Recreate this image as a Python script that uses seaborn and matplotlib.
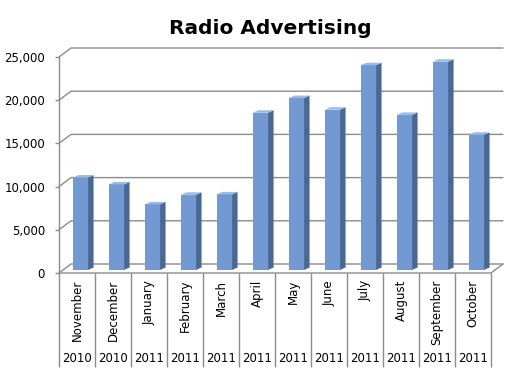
import matplotlib
matplotlib.use("Agg")
import matplotlib.pyplot as plt
from matplotlib.patches import Polygon
import seaborn as sns
import pandas as pd

months = ["November", "December", "January", "February", "March", "April",
          "May", "June", "July", "August", "September", "October"]
years = ["2010", "2010", "2011", "2011", "2011", "2011",
         "2011", "2011", "2011", "2011", "2011", "2011"]
values = [10700, 9900, 7600, 8700, 8750, 18200,
          19900, 18550, 23700, 17950, 24100, 15650]
yticks = [0, 5000, 10000, 15000, 20000, 25000]
ytick_labels = ["0", "5,000", "10,000", "15,000", "20,000", "25,000"]

sns.set_style("white")
plt.rcParams["font.family"] = ["DejaVu Sans"]
plt.rcParams["text.color"] = "black"

W, H = 523, 385
fig = plt.figure(figsize=(W / 100, H / 100), dpi=100)
L, R, B, T = 59, 491, 273, 57
ax = fig.add_axes([L / W, (H - B) / H, (R - L) / W, (B - T) / H])

df = pd.DataFrame({"key": [f"{m}\n{y}" for m, y in zip(months, years)],
                   "value": values})
front = "#7299D1"
side = "#4A6894"
top = "#9DB8E2"
grid = "#8C8C8C"

sns.barplot(data=df, x="key", y="value", color=front, saturation=1,
            width=0.42, ax=ax, zorder=3)

ax.set_xlim(-0.5, len(months) - 0.5)
ax.set_ylim(0, 25000)
px_x = 1 / 36.0           # one pixel in category units
px_y = 25000 / (B - T)    # one pixel in value units

wdx, wdy = 12 * px_x, 9 * px_y
bdx, bdy = 3.5 * px_x, 3 * px_y
ddx, ddy = 5.5 * px_x, 2.5 * px_y

for v in yticks:
    ax.plot([-0.5, -0.5 + wdx, len(months) - 0.5 + wdx], [v, v + wdy, v + wdy],
            color=grid, lw=1, clip_on=False, zorder=1)
ax.plot([-0.5, len(months) - 0.5, len(months) - 0.5 + wdx], [0, 0, wdy],
        color=grid, lw=1, clip_on=False, zorder=1)
ax.plot([-0.5, -0.5], [0, 25000], color=grid, lw=1, clip_on=False, zorder=1)

for p in ax.patches[:len(months)]:
    x0 = p.get_x() + bdx
    w = p.get_width()
    h = p.get_height()
    p.set_x(x0)
    p.set_y(bdy)
    p.set_linewidth(0)
    x1 = x0 + w
    ax.add_patch(Polygon([(x1, bdy), (x1, bdy + h), (x1 + ddx, bdy + h + ddy),
                          (x1 + ddx, bdy + ddy)], closed=True, fc=side, lw=0,
                         zorder=3, clip_on=False))
    ax.add_patch(Polygon([(x0, bdy + h), (x1, bdy + h), (x1 + ddx, bdy + h + ddy),
                          (x0 + ddx, bdy + h + ddy)], closed=True, fc=top, lw=0,
                         zorder=3, clip_on=False))

for s in ax.spines.values():
    s.set_visible(False)
ax.grid(False)
ax.set_yticks(yticks)
ax.set_yticklabels(ytick_labels)
ax.tick_params(axis="y", left=True, length=3, width=1, color=grid, pad=7,
               labelsize=8.5, labelcolor="black")
ax.set_xticks([])
ax.set_xlabel("")
ax.set_ylabel("")

xt = ax.get_xaxis_transform()
depth = -(367 - B) / (B - T)
ax.vlines([i - 0.5 for i in range(len(months) + 1)], depth, 0, transform=xt,
          colors=grid, lw=1, clip_on=False)
for i, (m, y) in enumerate(zip(months, years)):
    ax.text(i, -(280 - B) / (B - T), m, rotation=90, ha="center", va="top",
            fontsize=8.5, color="black", transform=xt)
    ax.text(i, -(359 - B) / (B - T), y, ha="center", va="center",
            fontsize=8.5, color="black", transform=xt)

fig.text(270 / W, 1 - 28 / H, "Radio Advertising", ha="center", va="center",
         fontsize=14.5, fontweight="bold", color="black")

fig.savefig("out.png", dpi=100)
